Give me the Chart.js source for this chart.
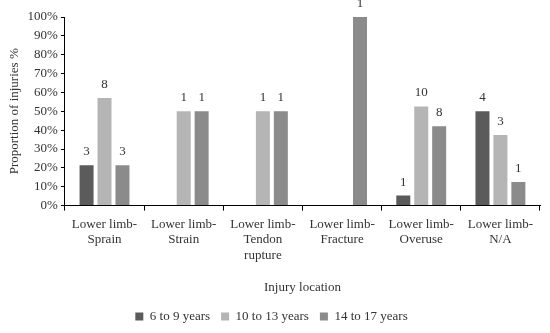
<!DOCTYPE html>
<html>
<head>
<meta charset="utf-8">
<script src="https://cdn.jsdelivr.net/npm/chart.js@4"></script>
<style>
  html, body { margin: 0; padding: 0; background: #fff; }
  #wrap { width: 550px; height: 333px; }
</style>
</head>
<body>
<div id="wrap"><canvas id="chart"></canvas></div>
<script>
const categories = [
    ['Lower limb-', 'Sprain'],
    ['Lower limb-', 'Strain'],
    ['Lower limb-', 'Tendon', 'rupture'],
    ['Lower limb-', 'Fracture'],
    ['Lower limb-', 'Overuse'],
    ['Lower limb-', 'N/A']
];
const seriesNames = ['6 to 9 years', '10 to 13 years', '14 to 17 years'];

// percentage of injuries per age group
const age6to9 = [21.4, 0, 0, 0, 5.3, 50];
const age10to13 = [57.1, 50, 50, 0, 52.6, 37.5];
const age14to17 = [21.4, 50, 50, 100, 42.1, 12.5];

// counts printed above the bars
const count6to9 = [3, null, null, null, 1, 4];
const count10to13 = [8, 1, 1, null, 10, 3];
const count14to17 = [3, 1, 1, 1, 8, 1];

const yTicks = [0, 10, 20, 30, 40, 50, 60, 70, 80, 90, 100];

const fontFamily = '"Liberation Serif", "Times New Roman", serif';
const textColor = '#333333';

const countLabels = {
    id: 'countLabels',
    afterDatasetsDraw(chart) {
        const ctx = chart.ctx;
        const counts = [count6to9, count10to13, count14to17];
        ctx.save();
        ctx.font = '13px ' + fontFamily;
        ctx.fillStyle = textColor;
        ctx.textAlign = 'center';
        ctx.textBaseline = 'bottom';
        chart.data.datasets.forEach(function(ds, i) {
            const meta = chart.getDatasetMeta(i);
            meta.data.forEach(function(bar, j) {
                const c = counts[i][j];
                if (c == null) return;
                ctx.fillText(String(c), bar.x, bar.y - 7);
            });
        });
        ctx.restore();
    }
};

new Chart(document.getElementById('chart'), {
    type: 'bar',
    data: {
        labels: categories,
        datasets: [
            { label: seriesNames[0], data: age6to9, backgroundColor: '#5b5b5b' },
            { label: seriesNames[1], data: age10to13, backgroundColor: '#b5b5b5' },
            { label: seriesNames[2], data: age14to17, backgroundColor: '#8b8b8b' }
        ]
    },
    options: {
        responsive: true,
        maintainAspectRatio: false,
        animation: false,
        categoryPercentage: 0.68,
        barPercentage: 0.78,
        layout: { padding: { top: 17, right: 10, left: 3, bottom: 0 } },
        plugins: {
            tooltip: { enabled: false },
            legend: {
                position: 'bottom',
                labels: {
                    boxWidth: 8,
                    boxHeight: 8,
                    padding: 11,
                    color: textColor,
                    font: { family: fontFamily, size: 13 }
                }
            }
        },
        scales: {
            x: {
                grid: { display: true, drawOnChartArea: false, offset: true, color: '#000', tickLength: 5 },
                border: { color: '#000' },
                ticks: { color: textColor, font: { family: fontFamily, size: 13 }, maxRotation: 0, autoSkip: false, padding: 6 },
                title: { display: true, text: 'Injury location', color: textColor, font: { family: fontFamily, size: 13 }, padding: { top: 10, bottom: 4 } }
            },
            y: {
                min: 0,
                max: 100,
                afterBuildTicks: function(axis) {
                    axis.ticks = yTicks.map(function(v) { return { value: v }; });
                },
                grid: { display: true, drawOnChartArea: false, color: '#000', tickLength: 4 },
                border: { color: '#000' },
                ticks: {
                    color: textColor,
                    font: { family: fontFamily, size: 13 },
                    padding: 3,
                    callback: function(v) { return v + '%'; }
                },
                title: { display: true, text: 'Proportion of injuries %', color: textColor, font: { family: fontFamily, size: 13 }, padding: { bottom: 2 } }
            }
        }
    },
    plugins: [countLabels]
});
</script>
</body>
</html>
